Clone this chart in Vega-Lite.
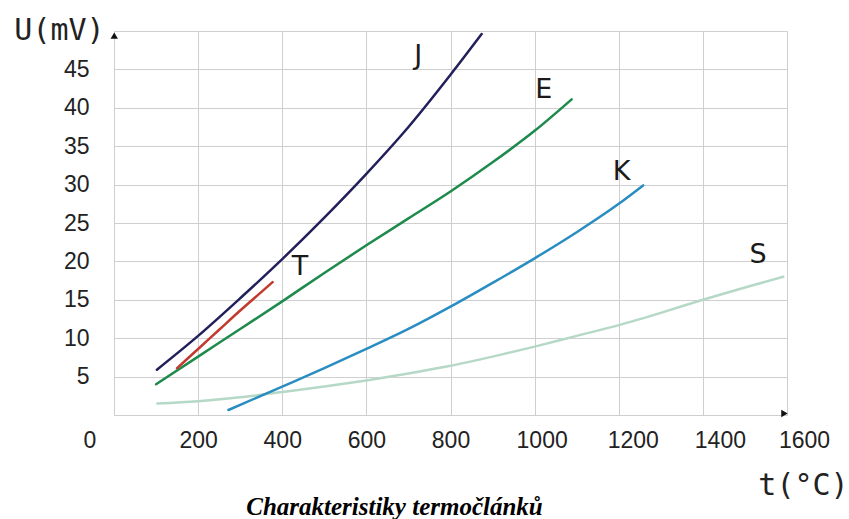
{
  "$schema": "https://vega.github.io/schema/vega-lite/v6.json",
  "autosize": "none",
  "width": 673,
  "height": 384,
  "padding": {"left": 114, "top": 31, "right": 62, "bottom": 104},
  "background": "white",
  "config": {
    "view": {"stroke": "#cfcfcf", "strokeWidth": 1},
    "axis": {
      "gridColor": "#cfcfcf",
      "gridWidth": 1,
      "domainColor": "#cfcfcf",
      "ticks": false,
      "labelFont": "Liberation Sans",
      "labelFontSize": 23,
      "labelColor": "#222222",
      "labelOverlap": false,
      "labelFlush": false,
      "format": "d",
      "titleFont": "DejaVu Sans Mono",
      "titleFontSize": 30,
      "titleFontWeight": "normal",
      "titleColor": "#222222"
    }
  },
  "title": {
    "text": "Charakteristiky termočlánků",
    "orient": "bottom",
    "anchor": "middle",
    "dx": -56,
    "offset": -5,
    "font": "Liberation Serif",
    "fontStyle": "italic",
    "fontWeight": "bold",
    "fontSize": 25,
    "color": "#000000"
  },
  "datasets": {
    "curves": [
      {"type": "S", "t": 103, "U": 1.5},
      {"type": "S", "t": 200, "U": 1.8},
      {"type": "S", "t": 300, "U": 2.3},
      {"type": "S", "t": 400, "U": 3.0},
      {"type": "S", "t": 500, "U": 3.7},
      {"type": "S", "t": 600, "U": 4.5},
      {"type": "S", "t": 700, "U": 5.4},
      {"type": "S", "t": 800, "U": 6.4},
      {"type": "S", "t": 900, "U": 7.6},
      {"type": "S", "t": 1000, "U": 8.9},
      {"type": "S", "t": 1100, "U": 10.3},
      {"type": "S", "t": 1200, "U": 11.7},
      {"type": "S", "t": 1300, "U": 13.3},
      {"type": "S", "t": 1400, "U": 15.0},
      {"type": "S", "t": 1500, "U": 16.6},
      {"type": "S", "t": 1591, "U": 18.0},
      {"type": "K", "t": 272, "U": 0.65},
      {"type": "K", "t": 400, "U": 3.7},
      {"type": "K", "t": 500, "U": 6.1},
      {"type": "K", "t": 600, "U": 8.6},
      {"type": "K", "t": 700, "U": 11.2},
      {"type": "K", "t": 800, "U": 14.1},
      {"type": "K", "t": 900, "U": 17.2},
      {"type": "K", "t": 1000, "U": 20.4},
      {"type": "K", "t": 1100, "U": 23.8},
      {"type": "K", "t": 1200, "U": 27.5},
      {"type": "K", "t": 1258, "U": 29.9},
      {"type": "E", "t": 100, "U": 4.0},
      {"type": "E", "t": 200, "U": 7.6},
      {"type": "E", "t": 300, "U": 11.2},
      {"type": "E", "t": 400, "U": 14.8},
      {"type": "E", "t": 500, "U": 18.5},
      {"type": "E", "t": 600, "U": 22.1},
      {"type": "E", "t": 700, "U": 25.6},
      {"type": "E", "t": 800, "U": 29.1},
      {"type": "E", "t": 900, "U": 32.9},
      {"type": "E", "t": 1000, "U": 37.0},
      {"type": "E", "t": 1088, "U": 41.1},
      {"type": "T", "t": 150, "U": 6.1},
      {"type": "T", "t": 200, "U": 8.6},
      {"type": "T", "t": 250, "U": 11.1},
      {"type": "T", "t": 300, "U": 13.6},
      {"type": "T", "t": 350, "U": 16.0},
      {"type": "T", "t": 377, "U": 17.3},
      {"type": "J", "t": 102, "U": 5.9},
      {"type": "J", "t": 200, "U": 10.3},
      {"type": "J", "t": 300, "U": 15.2},
      {"type": "J", "t": 400, "U": 20.3},
      {"type": "J", "t": 500, "U": 25.7},
      {"type": "J", "t": 600, "U": 31.4},
      {"type": "J", "t": 700, "U": 37.5},
      {"type": "J", "t": 800, "U": 44.3},
      {"type": "J", "t": 874, "U": 49.6}
    ],
    "labels": [
      {"name": "J", "t": 723, "U": 46.7},
      {"name": "E", "t": 1022, "U": 42.3},
      {"name": "K", "t": 1207, "U": 31.7},
      {"name": "T", "t": 442, "U": 19.3},
      {"name": "S", "t": 1531, "U": 20.8}
    ],
    "origin": [{"t": 0, "U": 0, "name": "0"}],
    "arrows": [
      {"t": 0.6, "U": 49.4, "shape": "triangle-up"},
      {"t": 1594, "U": 0.2, "shape": "triangle-right"}
    ]
  },
  "layer": [
    {
      "data": {"name": "curves"},
      "mark": {"type": "line", "interpolate": "monotone", "strokeWidth": 2.5, "strokeCap": "round"},
      "encoding": {
        "x": {
          "field": "t", "type": "quantitative",
          "scale": {"domain": [0, 1600], "nice": false, "zero": false},
          "axis": {
            "values": [200, 400, 600, 800, 1000, 1200, 1400, 1600],
            "grid": true,
            "labelPadding": 14,
            "labelOffset": {"expr": "datum.value == 1000 ? 7 : datum.value == 1200 ? 14 : datum.value >= 1400 ? 17 : 0"},
            "title": "t(°C)",
            "titleX": 689,
            "titleY": 70,
            "titleAlign": "center",
            "titleBaseline": "middle"
          }
        },
        "y": {
          "field": "U", "type": "quantitative",
          "scale": {"domain": [0, 50], "nice": false},
          "axis": {
            "values": [5, 10, 15, 20, 25, 30, 35, 40, 45],
            "grid": true,
            "labelPadding": 25,
            "title": "U(mV)",
            "titleAngle": 0,
            "titleX": -55,
            "titleY": -1,
            "titleAlign": "center",
            "titleBaseline": "middle"
          }
        },
        "color": {
          "field": "type", "type": "nominal",
          "scale": {"domain": ["S", "K", "E", "T", "J"], "range": ["#b6d8c6", "#2a8dc2", "#1e8a4c", "#c4392e", "#22205a"]},
          "legend": null
        }
      }
    },
    {
      "data": {"name": "labels"},
      "mark": {"type": "text", "font": "DejaVu Sans", "fontSize": 27, "color": "#1a1a1a", "align": "center", "baseline": "middle"},
      "encoding": {
        "x": {"field": "t", "type": "quantitative"},
        "y": {"field": "U", "type": "quantitative"},
        "text": {"field": "name"}
      }
    },
    {
      "data": {"name": "origin"},
      "mark": {"type": "text", "font": "Liberation Sans", "fontSize": 23, "color": "#222222", "align": "center", "baseline": "middle", "dx": -24, "dy": 26},
      "encoding": {
        "x": {"field": "t", "type": "quantitative"},
        "y": {"field": "U", "type": "quantitative"},
        "text": {"field": "name"}
      }
    },
    {
      "data": {"name": "arrows"},
      "mark": {"type": "point", "filled": true, "size": 55, "color": "#111111", "opacity": 1},
      "encoding": {
        "x": {"field": "t", "type": "quantitative"},
        "y": {"field": "U", "type": "quantitative"},
        "shape": {"field": "shape", "type": "nominal", "scale": null}
      }
    }
  ]
}
